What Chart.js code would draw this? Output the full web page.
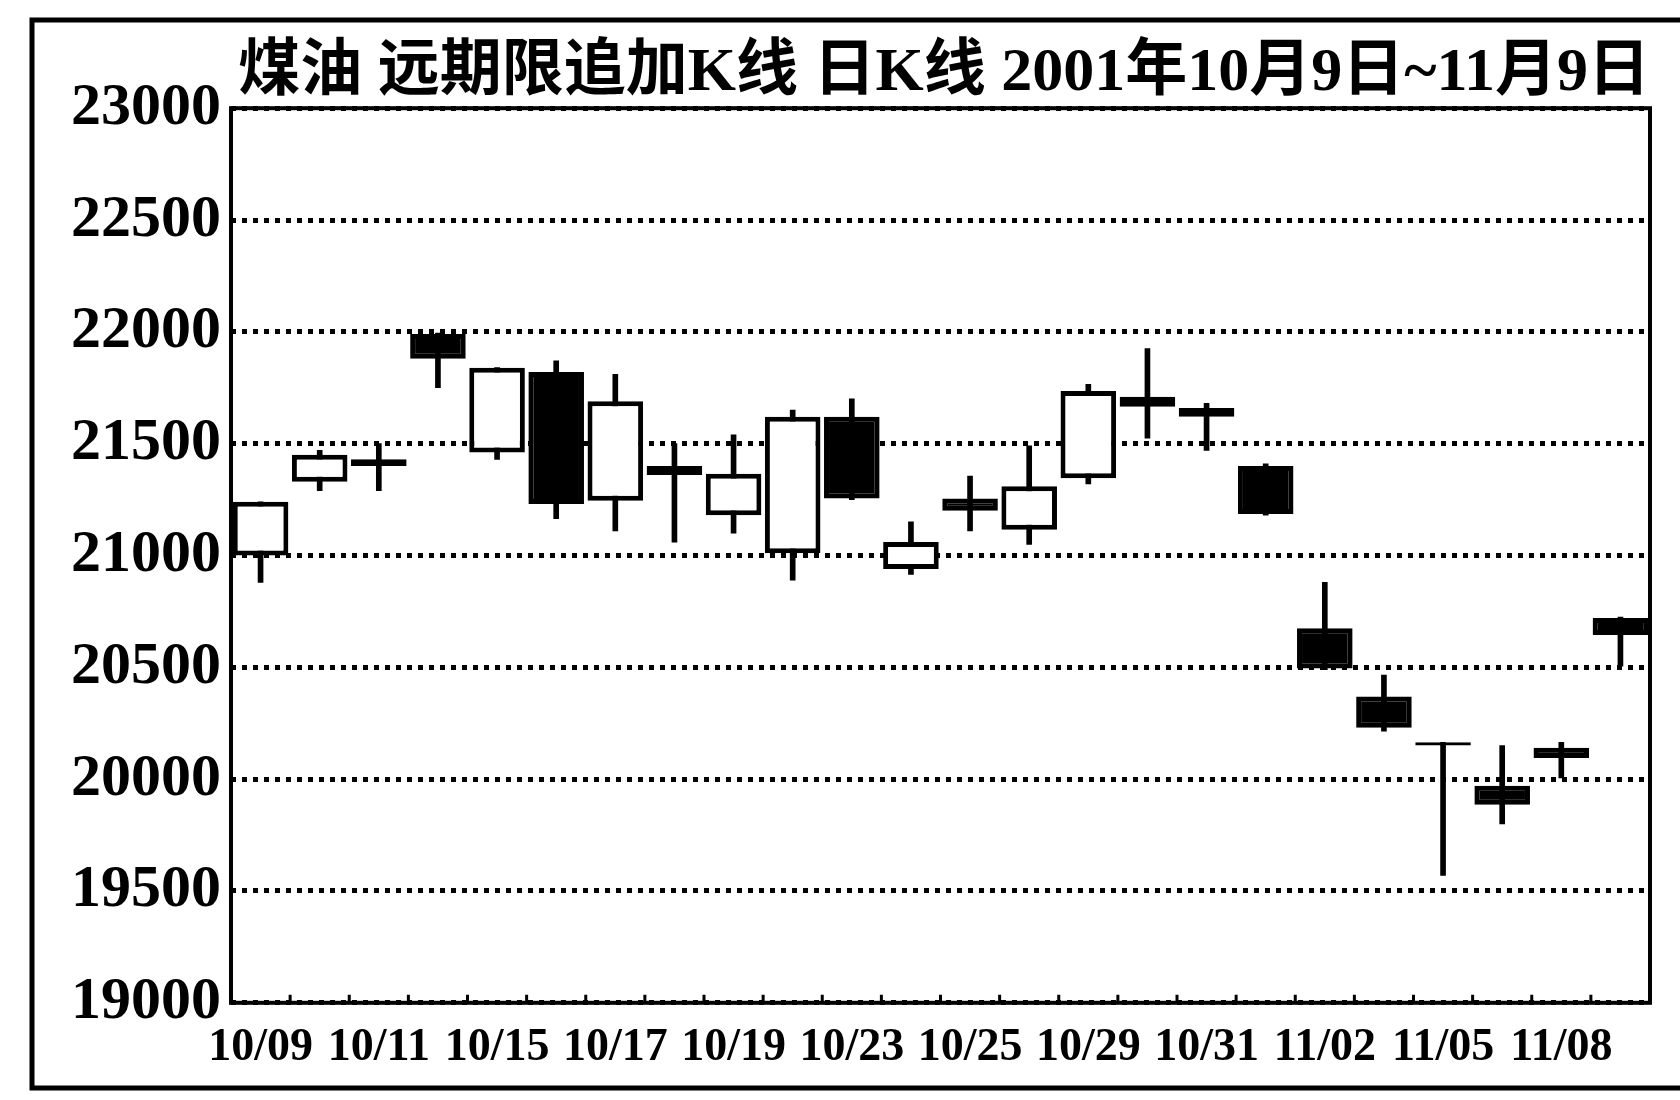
<!DOCTYPE html>
<html lang="zh">
<head>
<meta charset="utf-8">
<title>煤油 远期限追加K线 日K线</title>
<script src="https://cdn.jsdelivr.net/npm/chart.js@4/dist/chart.umd.min.js"></script>
<style>
  html, body { margin: 0; padding: 0; background: #fff; }
  #wrap { width: 1680px; height: 1100px; }
</style>
</head>
<body>
<div id="wrap"><canvas id="kline"></canvas></div>
<script>
const titleText = '煤油 远期限追加K线 日K线 2001年10月9日~11月9日';

// trading days, only every other one gets a label on the axis
const dates = ['10/09', '10/10', '10/11', '10/12', '10/15', '10/16', '10/17', '10/18',
               '10/19', '10/22', '10/23', '10/24', '10/25', '10/26', '10/29', '10/30',
               '10/31', '11/01', '11/02', '11/03', '11/05', '11/06', '11/08', '11/09'];

const opens  = [21000, 21330, 21430, 21990, 21460, 21820, 21245, 21400,
                21180, 21010, 21620, 20940, 21255, 21115, 21345, 21665,
                21660, 21400, 20675, 20370, 20165, 19970, 20140, 20720];
const highs  = [21240, 21470, 21500, 21995, 21840, 21870, 21810, 21500,
                21540, 21650, 21700, 21150, 21355, 21490, 21765, 21925,
                21680, 21410, 20880, 20465, 20165, 20150, 20165, 20725];
const lows   = [20880, 21290, 21290, 21750, 21430, 21165, 21110, 21060,
                21100, 20890, 21250, 20915, 21110, 21050, 21320, 21525,
                21470, 21180, 20490, 20215, 19570, 19800, 20005, 20505];
const closes = [21240, 21450, 21400, 21880, 21840, 21230, 21690, 21360,
                21365, 21620, 21255, 21060, 21200, 21310, 21735, 21710,
                21620, 21185, 20495, 20230, 20150, 19885, 20095, 20645];

const yMin = 19000;
const yMax = 23000;
const yStep = 500;

const serif = "'Liberation Serif', 'Times New Roman', 'Noto Sans CJK SC', serif";

const bodies = opens.map((o, i) => [o, closes[i]]);
const wicks = lows.map((l, i) => [l, highs[i]]);
const bodyFill = opens.map((o, i) => closes[i] >= o ? '#ffffff' : '#000000');

// solid frame round the plot, little inward ticks on the x axis, and the outer box of the figure
const framePlugin = {
    id: 'frame',
    beforeDraw(chart) {
        const ctx = chart.ctx;
        ctx.save();
        ctx.fillStyle = '#fff';
        ctx.fillRect(0, 0, chart.width, chart.height);
        ctx.restore();
    },
    afterDraw(chart) {
        const ctx = chart.ctx;
        const a = chart.chartArea;
        const xs = chart.scales.x;
        ctx.save();
        ctx.strokeStyle = '#000';
        ctx.lineWidth = 4;
        ctx.strokeRect(a.left, a.top, a.right - a.left, a.bottom - a.top);

        ctx.lineWidth = 3;
        ctx.beginPath();
        for (let i = 0; i < dates.length - 1; i++) {
            const x = (xs.getPixelForValue(i) + xs.getPixelForValue(i + 1)) / 2;
            ctx.moveTo(x, a.bottom);
            ctx.lineTo(x, a.bottom - 8);
        }
        ctx.stroke();

        ctx.lineWidth = 5;
        ctx.strokeRect(32, 20, chart.width + 20, 1068);
        ctx.restore();
    }
};

new Chart(document.getElementById('kline'), {
    type: 'bar',
    data: {
        labels: dates,
        datasets: [
            {
                label: 'body',
                data: bodies,
                backgroundColor: bodyFill,
                borderColor: '#000',
                borderWidth: 5,
                borderSkipped: false,
                barPercentage: 0.94,
                categoryPercentage: 1,
                grouped: false,
                order: 1
            },
            {
                label: 'wick',
                data: wicks,
                backgroundColor: '#000',
                borderWidth: 0,
                barThickness: 5,
                grouped: false,
                order: 2
            }
        ]
    },
    options: {
        responsive: true,
        maintainAspectRatio: false,
        animation: false,
        layout: { padding: { top: 34, left: 61, right: 30, bottom: 14 } },
        plugins: {
            legend: { display: false },
            tooltip: { enabled: false },
            title: {
                display: true,
                text: titleText,
                align: 'end',
                color: '#000',
                font: { family: serif, size: 62, weight: 'bold', lineHeight: 1.1 },
                padding: { top: 6, bottom: 0 }
            }
        },
        scales: {
            x: {
                type: 'category',
                offset: true,
                grid: { display: false },
                border: { display: false },
                ticks: {
                    autoSkip: false,
                    maxRotation: 0,
                    minRotation: 0,
                    padding: 10,
                    color: '#000',
                    font: { family: serif, size: 46, weight: 'bold' },
                    callback: (v, i) => i % 2 === 0 ? dates[i] : ''
                }
            },
            y: {
                min: yMin,
                max: yMax,
                ticks: {
                    stepSize: yStep,
                    padding: 10,
                    color: '#000',
                    font: { family: serif, size: 60, weight: 'bold' },
                    callback: v => String(v)
                },
                grid: { color: '#000', lineWidth: 5, drawTicks: false },
                border: { display: false, dash: [5, 6] }
            }
        }
    },
    plugins: [framePlugin]
});
</script>
</body>
</html>
